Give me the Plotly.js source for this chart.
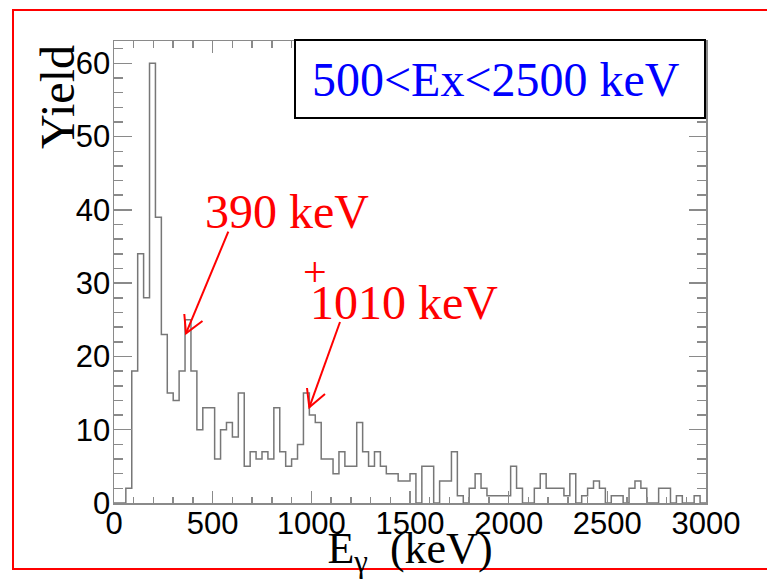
<!DOCTYPE html>
<html>
<head>
<meta charset="utf-8">
<script src="https://cdn.plot.ly/plotly-3.0.1.min.js"></script>
<style>html,body{margin:0;padding:0;background:#fff;}#chart{width:767px;height:579px;}</style>
</head>
<body>
<div id="chart"></div>
<script>
// Histogram: 30 keV bins from 0 to 3000 keV
const binLow = 0;
const binWidth = 30;
const counts = [
  0, 0, 2, 18, 34, 28, 60, 39, 23, 15,
  14, 18, 25, 18, 10, 13, 13, 6, 10, 11,
  9, 15, 5, 7, 6, 7, 6, 13, 7, 5,
  6, 8, 15, 12, 11, 6, 6, 4, 7, 5,
  5, 11, 7, 5, 7, 5, 4, 4, 3, 3,
  4, 0, 5, 5, 0, 3, 3, 7, 1, 0,
  2, 4, 2, 1, 1, 1, 1, 5, 2, 0,
  0, 2, 4, 2, 2, 2, 1, 4, 0, 1,
  2, 3, 2, 0, 1, 1, 0, 2, 3, 2,
  0, 0, 2, 2, 0, 1, 0, 0, 1, 0
];
const xTickVals = [0, 500, 1000, 1500, 2000, 2500, 3000];
const xTickText = ['0', '500', '1000', '1500', '2000', '2500', '3000'];
const yTickVals = [0, 10, 20, 30, 40, 50, 60];
const yTickText = ['0', '10', '20', '30', '40', '50', '60'];
const peakLabels = ['390 keV', '1010 keV'];
const boxLabel = '500<Ex<2500 keV';

const edges = counts.map((_, i) => binLow + i * binWidth).concat([binLow + counts.length * binWidth]);
const ys = counts.concat([counts[counts.length - 1]]);

// plot geometry (pixels)
const L = 114, R = 706, T = 41, B = 503;
const W = R - L, H = B - T;
const px = x => (x - L) / W;
const py = y => (B - y) / H;

const trace = {
  type: 'scatter', mode: 'lines', x: edges, y: ys,
  line: {shape: 'hv', color: '#777777', width: 1.5},
  hoverinfo: 'x+y', showlegend: false
};

const axisCommon = {
  showline: true, linecolor: '#8a8a8a', linewidth: 1.5, mirror: 'ticks',
  ticks: 'inside', tickcolor: '#8a8a8a', tickwidth: 1.5,
  showgrid: false, zeroline: false,
  tickfont: {family: 'Liberation Sans, Arial, sans-serif', size: 31, color: '#000'}
};

const layout = {
  width: 767, height: 579,
  margin: {l: L, r: 767 - R, t: T, b: 579 - B, pad: 0},
  paper_bgcolor: '#fff', plot_bgcolor: '#fff',
  xaxis: Object.assign({}, axisCommon, {
    range: [0, 3000], tickmode: 'array', tickvals: xTickVals, ticktext: xTickText,
    ticklen: 12, ticklabelstandoff: -8,
    minor: {dtick: 100, ticklen: 6.5, tickcolor: '#8a8a8a', tickwidth: 1.5, ticks: 'inside', showgrid: false},
    title: {text: 'E<sub>\u03b3</sub>\u00a0\u00a0(keV)', font: {family: 'Liberation Serif, Times New Roman, serif', size: 44, color: '#000'}, standoff: 0}
  }),
  yaxis: Object.assign({}, axisCommon, {
    range: [0, 63.05], tickmode: 'array', tickvals: yTickVals, ticktext: yTickText,
    ticklen: 17.5, ticklabelstandoff: -4,
    minor: {dtick: 2, ticklen: 9, tickcolor: '#8a8a8a', tickwidth: 1.5, ticks: 'inside', showgrid: false}
  }),
  shapes: [
    // outer red frame
    {type: 'rect', xref: 'paper', yref: 'paper', x0: px(13), x1: px(800), y0: py(569), y1: py(10),
     line: {color: '#ff0000', width: 2}, fillcolor: 'rgba(0,0,0,0)', layer: 'above'},
    // label box
    {type: 'rect', xref: 'paper', yref: 'paper', x0: px(295), x1: px(705), y0: py(118), y1: py(40),
     line: {color: '#000', width: 2}, fillcolor: '#fff', layer: 'above'},
    // arrow 1
    {type: 'path', xref: 'paper', yref: 'paper', layer: 'above',
     path: `M ${px(228.3)} ${py(231.7)} L ${px(186)} ${py(333.3)}`, line: {color: '#ff0000', width: 2}},
    {type: 'path', xref: 'paper', yref: 'paper', layer: 'above',
     path: `M ${px(184.3)} ${py(314)} L ${px(186)} ${py(333.3)} L ${px(202.5)} ${py(321)}`, line: {color: '#ff0000', width: 2}},
    // arrow 2
    {type: 'path', xref: 'paper', yref: 'paper', layer: 'above',
     path: `M ${px(340)} ${py(322)} L ${px(309.3)} ${py(407.3)}`, line: {color: '#ff0000', width: 2}},
    {type: 'path', xref: 'paper', yref: 'paper', layer: 'above',
     path: `M ${px(307)} ${py(388)} L ${px(309.3)} ${py(407.3)} L ${px(325)} ${py(394)}`, line: {color: '#ff0000', width: 2}}
  ],
  annotations: [
    {xref: 'paper', yref: 'paper', x: px(496), y: py(80), text: boxLabel, showarrow: false,
     xanchor: 'center', yanchor: 'middle', font: {family: 'Liberation Serif, Times New Roman, serif', size: 48, color: '#0000ff'}},
    {xref: 'paper', yref: 'paper', x: px(286.5), y: py(212), text: peakLabels[0], showarrow: false,
     xanchor: 'center', yanchor: 'middle', font: {family: 'Liberation Serif, Times New Roman, serif', size: 48, color: '#ff0000'}},
    {xref: 'paper', yref: 'paper', x: px(404), y: py(302), text: peakLabels[1], showarrow: false,
     xanchor: 'center', yanchor: 'middle', font: {family: 'Liberation Serif, Times New Roman, serif', size: 48, color: '#ff0000'}},
    {xref: 'paper', yref: 'paper', x: px(315), y: py(272), text: '+', showarrow: false,
     xanchor: 'center', yanchor: 'middle', font: {family: 'Liberation Serif, Times New Roman, serif', size: 42, color: '#ff0000'}},
    {xref: 'paper', yref: 'paper', x: px(57), y: py(97), text: 'Yield', showarrow: false, textangle: -90,
     xanchor: 'center', yanchor: 'middle', font: {family: 'Liberation Serif, Times New Roman, serif', size: 48, color: '#000'}}
  ]
};

Plotly.newPlot('chart', [trace], layout, {displayModeBar: false, staticPlot: true});
</script>
</body>
</html>
